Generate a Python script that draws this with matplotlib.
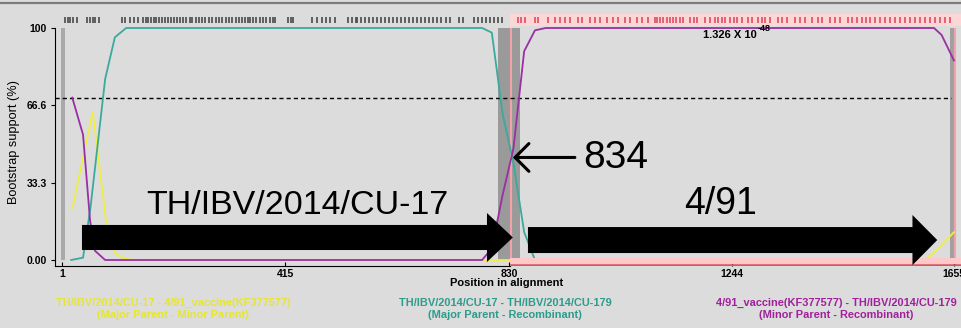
import matplotlib
matplotlib.use('Agg')
import matplotlib.pyplot as plt
from matplotlib.patches import Rectangle, FancyArrow
from matplotlib.lines import Line2D

plt.rcParams['font.family'] = ['Liberation Sans', 'DejaVu Sans']

''' Data '''
# bootscan curves (position in alignment, bootstrap support %)
yellow_pos = [20, 58, 71, 84, 99, 114, 130, 1598, 1612, 1630, 1655]
yellow_val = [22, 64, 39, 14, 3, 1, 0, 0, 2, 6, 12]

cyan_pos = [18, 40, 54, 81, 99, 120, 780, 798, 818, 838, 858, 878, 1655]
cyan_val = [0, 1, 23, 78, 96, 100, 100, 98, 63, 42, 12, 0, 0]

magenta_pos = [20, 40, 53, 62, 81, 780, 798, 818, 838, 858, 878, 898, 1598, 1618, 1632, 1655]
magenta_val = [70, 54, 17, 4, 0, 0, 5, 28, 48, 90, 99, 100, 100, 100, 97, 86]

# informative sites shown in the top strip
sites_outside = [7, 12, 16, 21, 29, 47, 53, 58, 62, 70, 112, 118, 127, 134, 142,
                 151, 157, 160, 166, 172, 175, 181, 186, 192, 198, 203, 209, 214, 220,
                 225, 231, 238, 242, 249, 255, 261, 266, 274, 279, 287, 292, 298, 305,
                 311, 316, 324, 329, 335, 340, 346, 350, 355, 361, 368, 374, 379, 387,
                 392, 396, 420, 426, 429, 465, 474, 483, 491, 498, 507, 531, 539, 546,
                 548, 555, 563, 570, 577, 585, 592, 600, 607, 615, 622, 629, 637, 644,
                 652, 659, 666, 674, 681, 689, 696, 703, 713, 720, 737, 745, 765, 772,
                 780, 787, 795, 802, 809, 817]
sites_inside = [846, 852, 860, 878, 884, 902, 915, 924, 934, 943, 958, 965, 980, 989,
                999, 1012, 1023, 1032, 1045, 1054, 1067, 1077, 1088, 1101, 1104, 1110,
                1115, 1123, 1128, 1134, 1140, 1147, 1153, 1166, 1173, 1178, 1193, 1203,
                1212, 1217, 1225, 1230, 1240, 1247, 1253, 1262, 1273, 1280, 1292, 1299,
                1305, 1314, 1329, 1336, 1345, 1360, 1369, 1379, 1392, 1403, 1410, 1425,
                1434, 1444, 1458, 1466, 1475, 1484, 1492, 1499, 1509, 1518, 1527, 1536,
                1546, 1555, 1564, 1573, 1583, 1592, 1601, 1610, 1620, 1629, 1638, 1647]

breakpoint_pos = 834
region_start = 809
region_end = 850
cutoff = 70
x_ticks = [1, 415, 830, 1244, 1655]
y_ticks = [0, 33.3, 66.6, 100]
y_tick_labels = ['0.00', '33.3', '66.6', '100']
pvalue_text = '1.326 X 10'
pvalue_exp = '-48'

legend_texts = [
    'TH/IBV/2014/CU-17 - 4/91_vaccine(KF377577)\n(Major Parent - Minor Parent)',
    'TH/IBV/2014/CU-17 - TH/IBV/2014/CU-179\n(Major Parent - Recombinant)',
    '4/91_vaccine(KF377577) - TH/IBV/2014/CU-179\n(Minor Parent - Recombinant)',
]

''' general plot configurations '''
W, H = 961, 328
fig = plt.figure(figsize=(W / 100, H / 100), dpi=100, facecolor='#dcdcdc')
ax = fig.add_axes([55 / W, (H - 266) / H, (W - 55) / W, (266 - 12) / H])
ax.set_facecolor('none')
x_lo, x_hi = -12, 1668
y_lo, y_hi = -2.59, 106.9
ax.set_xlim(x_lo, x_hi)
ax.set_ylim(y_lo, y_hi)

# top border of the window
fig.add_artist(Line2D([0, 1], [1 - 3.2 / H] * 2, lw=1.6, color='#7c7c7c'))

# gray bars and recombinant region
ax.add_patch(Rectangle((-1, 0), 8, 100, color='#a9a9a9', lw=0, zorder=1))
ax.add_patch(Rectangle((1648, 0), 7, 100, color='#a0a0a0', lw=0, zorder=1))
ax.add_patch(Rectangle((region_start, 0), region_end - region_start, 100,
                       color='#9a9a9a', lw=0, zorder=1))
ax.vlines([breakpoint_pos, 1657], y_lo, 100, color='#f2a2a8', lw=1.5, zorder=1.5)

# top strip of sites
ax.add_patch(Rectangle((832, 100.9), x_hi - 832, 5.2, color='#ffd6d6', lw=0, zorder=1))
ax.vlines(sites_outside, 102.0, 104.8, color='#4a4a4a', lw=1.2, zorder=2)
ax.vlines(sites_inside, 102.0, 104.8, color='#e0586a', lw=1.3, zorder=2)

# cutoff
ax.plot([x_lo, 1650], [cutoff, cutoff], color='black', lw=1, dashes=(3, 2.2), zorder=2)

# curves
ax.plot(yellow_pos, yellow_val, color='#eeee44', lw=1.3, zorder=3)
ax.plot(cyan_pos, cyan_val, color='#3aaa9c', lw=1.3, zorder=3)
ax.plot(magenta_pos, magenta_val, color='#9a2ea2', lw=1.3, zorder=3)

# bottom strip
ax.add_patch(Rectangle((832, -1.6), x_hi - 832, 2.5, color='#ffc8c8', lw=0, zorder=3.5))
ax.plot([832, x_hi], [-2.3, -2.3], color='#e2505a', lw=1.8, zorder=3.6,
        solid_capstyle='butt')

# axes config
for s in ['top', 'right']:
    ax.spines[s].set_visible(False)
ax.spines['left'].set_bounds(y_lo, 100)
ax.spines['bottom'].set_bounds(x_lo, 832)
ax.set_yticks(y_ticks)
ax.set_yticklabels(y_tick_labels, fontsize=7.5, fontweight='bold')
ax.set_xticks(x_ticks)
ax.set_xticklabels([str(t) for t in x_ticks], fontsize=7.5, fontweight='bold')
ax.tick_params(axis='y', length=3, pad=3, color='black')
ax.tick_params(axis='x', length=3, direction='in', pad=2)
ax.get_xticklines()[6].set_color('#e2505a')

fig.text(14 / W, 1 - 142 / H, 'Bootstrap support (%)', rotation=90, fontsize=9.2,
         ha='center', va='center')
fig.text(507 / W, 1 - 283 / H, 'Position in alignment', fontsize=8, fontweight='bold',
         ha='center', va='center')

# p-value
ax.text(1190, 95.6, pvalue_text, fontsize=8, fontweight='bold', ha='left', va='baseline',
        zorder=4)
ax.text(1291, 98.5, pvalue_exp, fontsize=6.5, fontweight='bold', ha='left', va='baseline',
        zorder=4)

# legend texts
legend_colors = ['#e6e632', '#2d9c8c', '#a0209c']
legend_x = [173, 505, 836]
for txt, c, xp in zip(legend_texts, legend_colors, legend_x):
    fig.text(xp / W, 1 - 309 / H, txt, color=c, fontsize=7.9, fontweight='bold',
             ha='center', va='center', linespacing=1.15)

# annotations
ax.add_patch(FancyArrow(38, 9.7, 837 - 38, 0, width=10.8, head_width=21.1,
                        head_length=48, length_includes_head=True, color='black',
                        lw=0, zorder=5))
ax.add_patch(FancyArrow(865, 8.6, 1624 - 865, 0, width=11.2, head_width=21.6,
                        head_length=46, length_includes_head=True, color='black',
                        lw=0, zorder=5))
ax.annotate('', xy=(837, 44.2), xytext=(952, 44.2),
            arrowprops=dict(arrowstyle='->,head_length=0.5,head_width=0.5',
                            mutation_scale=20, lw=2.2, color='black',
                            shrinkA=0, shrinkB=0), zorder=5)
ax.text(437, 19.8, 'TH/IBV/2014/CU-17', fontsize=24.5, ha='center', va='baseline', zorder=5)
ax.text(1223, 19.8, '4/91', fontsize=27, ha='center', va='baseline', zorder=5)
ax.text(967, 39.5, '834', fontsize=28, ha='left', va='baseline', zorder=5)

plt.savefig('out.png', dpi=100, facecolor=fig.get_facecolor())
